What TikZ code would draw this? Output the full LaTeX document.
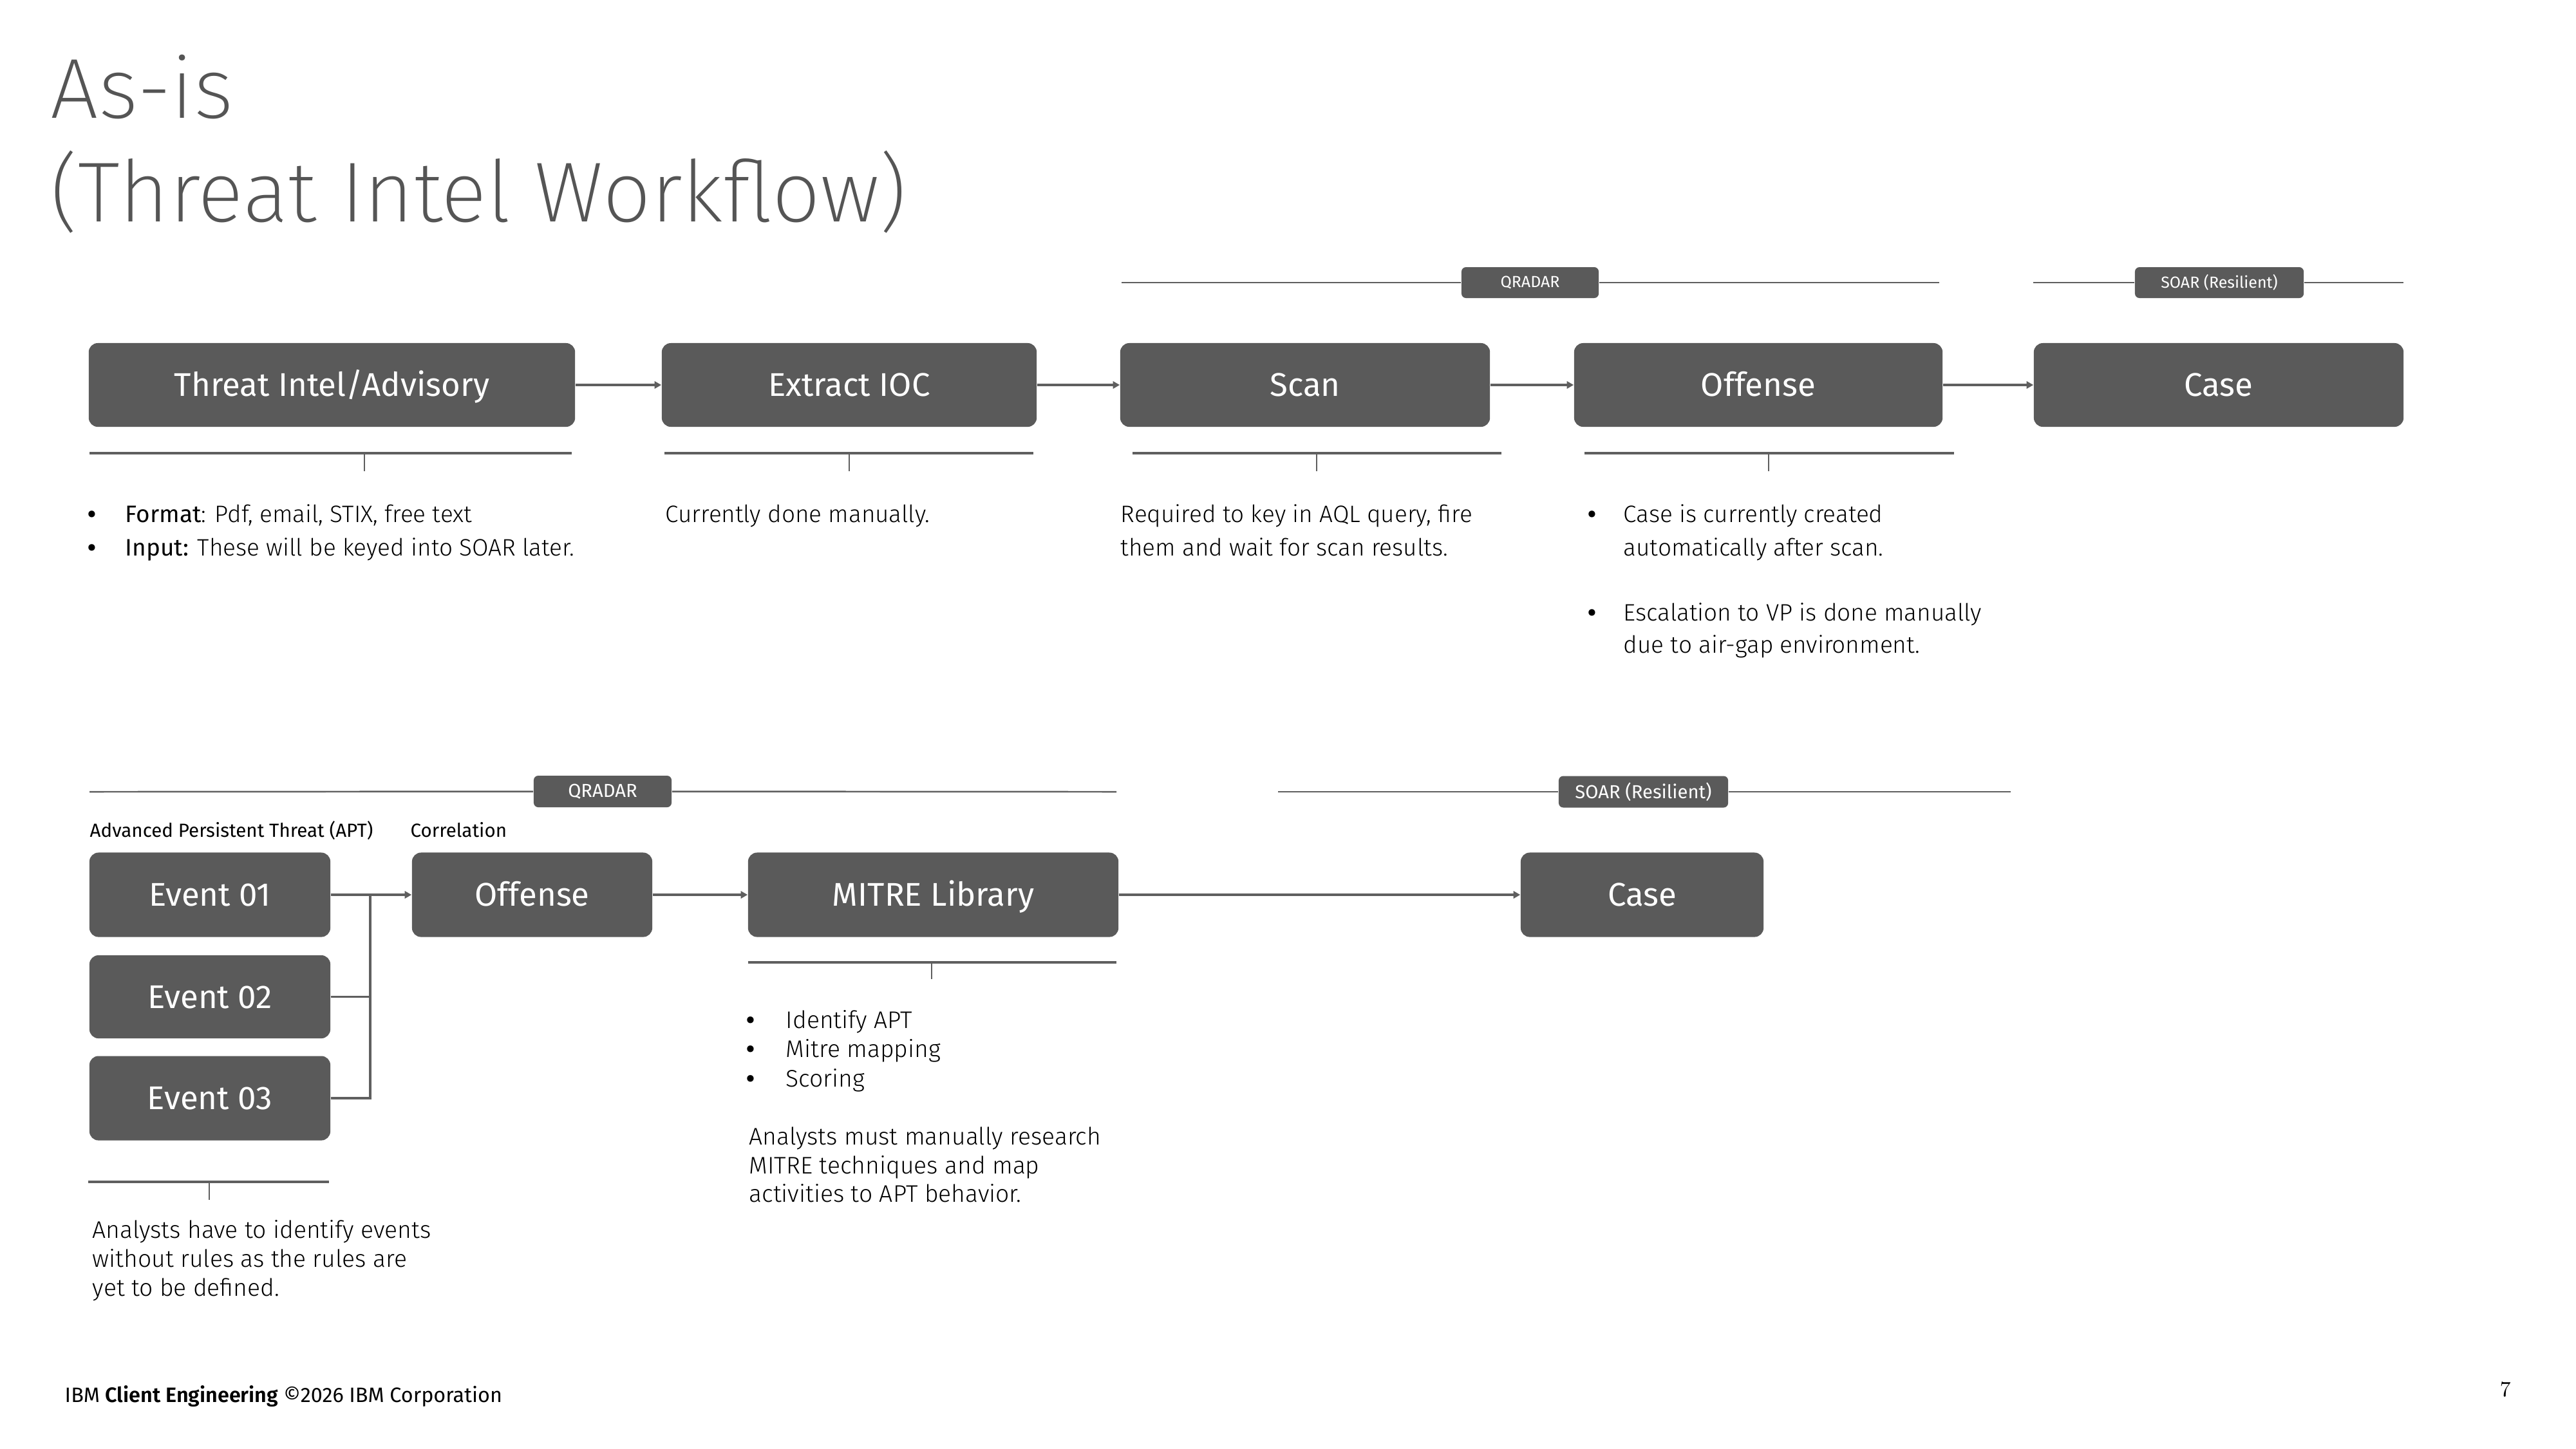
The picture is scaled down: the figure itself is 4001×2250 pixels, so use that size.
\documentclass[tikz,border=0pt]{standalone}
\usepackage{fontspec}
\setmainfont{Fira Sans}
\newfontfamily\lightf{Fira Sans Light}
\newfontfamily\xlightf{Fira Sans ExtraLight}
\newfontfamily\semif{Fira Sans SemiBold}
\newfontfamily\regf{Fira Sans}
\usetikzlibrary{arrows.meta}
\definecolor{boxgray}{HTML}{5A5A5A}
\definecolor{linegray}{HTML}{5F5F5F}
\definecolor{titlegray}{HTML}{555555}
\newcommand{\bul}{{\regf\bfseries •}}
\tikzset{
  box/.style={rectangle, rounded corners=4pt, fill=boxgray, text=white, inner sep=0pt,
    text height=10pt, text depth=0pt, font=\fontsize{14.5}{17}\selectfont},
  tag/.style={rectangle, rounded corners=2pt, fill=boxgray, text=white, inner sep=0pt},
  conn/.style={draw=linegray, line width=0.9pt, -{Triangle[length=3pt,width=3.2pt]}},
  plain/.style={draw=linegray, line width=0.9pt},
  grp/.style={draw=linegray, line width=0.7pt},
  tick/.style={draw=linegray, line width=0.45pt},
  body/.style={anchor=base west, inner sep=0pt, font=\lightf\fontsize{10.5}{13}\selectfont},
  bodyb/.style={anchor=base west, inner sep=0pt, font=\lightf\fontsize{10.6}{13}\selectfont},
  lbl/.style={anchor=base west, inner sep=0pt, font=\fontsize{8.4}{10}\selectfont},
}
\begin{document}
\begin{tikzpicture}[x=0.01cm,y=-0.01cm]
\useasboundingbox (0,0) rectangle (4001,2250);
\fill[white] (0,0) rectangle (4001,2250);

% title
\node[anchor=base west, inner sep=0pt, text=titlegray, font=\xlightf\fontsize{37.6}{45}\selectfont] (t1) at (78,183) {As-is};
\node[anchor=base west, inner sep=0pt, text=titlegray, font=\xlightf\fontsize{37.6}{45}\selectfont] (t2) at (78,344) {(Threat Intel Workflow)};

% ---------- top row ----------
\node[box, minimum width=7.55cm, minimum height=1.3cm] (tia) at (515.5,598) {Threat Intel/Advisory};
\node[box, minimum width=5.82cm, minimum height=1.3cm] (ioc) at (1319,598) {Extract IOC};
\node[box, minimum width=5.74cm, minimum height=1.3cm] (scan) at (2027,598) {Scan};
\node[box, minimum width=5.72cm, minimum height=1.3cm] (off) at (2731,598) {Offense};
\node[box, minimum width=5.74cm, minimum height=1.3cm] (case) at (3446,598) {Case};

\draw[conn] (tia) -- (ioc);
\draw[conn] (ioc) -- (scan);
\draw[conn] (scan) -- (off);
\draw[conn] (off) -- (case);

% group headers top
\node[tag, minimum width=2.13cm, minimum height=0.48cm, font=\fontsize{7.1}{8}\selectfont] (qtag) at (2376.5,439) {QRADAR};
\node[tag, minimum width=2.62cm, minimum height=0.48cm, font=\fontsize{7.1}{8}\selectfont] (stag) at (3447,439) {SOAR (Resilient)};
\coordinate (qL) at (1742,439); \coordinate (qR) at (3012,439);
\coordinate (sL) at (3158,439); \coordinate (sR) at (3733,439);
\draw[grp] (qL) -- (qtag.west); \draw[grp] (qtag.east) -- (qR);
\draw[grp] (sL) -- (stag.west); \draw[grp] (stag.east) -- (sR);

% brackets top
\coordinate (b1l) at (139,704); \coordinate (b1r) at (888,704); \coordinate (b1t) at (566,704); \coordinate (b1b) at (566,732);
\coordinate (b2l) at (1032,704); \coordinate (b2r) at (1605,704); \coordinate (b2t) at (1319,704); \coordinate (b2b) at (1319,732);
\coordinate (b3l) at (1759,704); \coordinate (b3r) at (2332,704); \coordinate (b3t) at (2045,704); \coordinate (b3b) at (2045,732);
\coordinate (b4l) at (2461,704); \coordinate (b4r) at (3035,704); \coordinate (b4t) at (2747,704); \coordinate (b4b) at (2747,732);
\foreach \i in {1,2,3,4}{
  \draw[plain] (b\i l) -- (b\i r);
  \draw[tick] (b\i t) -- (b\i b);
}

% texts top
\node[body] (f1b) at (136,811) {\bul};
\node[body] (f1) at (194,811) {{\regf Format}: Pdf, email, STIX, free text};
\node[body] (f2b) at (136,863) {\bul};
\node[body] (f2) at (194,863) {{\regf Input:} These will be keyed into SOAR later.};
\node[body] (e1) at (1033,811) {Currently done manually.};
\node[body] (s1) at (1740,811) {Required to key in AQL query, fire};
\node[body] (s2) at (1740,863) {them and wait for scan results.};
\node[body] (o1b) at (2466,811) {\bul};
\node[body] (o1) at (2521,811) {Case is currently created};
\node[body] (o2) at (2521,863) {automatically after scan.};
\node[body] (o3b) at (2466,964) {\bul};
\node[body] (o3) at (2521,964) {Escalation to VP is done manually};
\node[body] (o4) at (2521,1014) {due to air-gap environment.};

% ---------- bottom row ----------
\node[tag, minimum width=2.14cm, minimum height=0.49cm, font=\fontsize{8.3}{9}\selectfont] (qtag2) at (936,1229.5) {QRADAR};
\node[tag, minimum width=2.63cm, minimum height=0.49cm, font=\fontsize{8.3}{9}\selectfont] (stag2) at (2552.5,1230) {SOAR (Resilient)};
\coordinate (qL2) at (139,1230); \coordinate (qR2) at (1734,1230);
\coordinate (sL2) at (1985,1230); \coordinate (sR2) at (3123,1230);
\draw[grp] (qL2) -- (qtag2.west); \draw[grp] (qtag2.east) -- (qR2);
\draw[grp] (sL2) -- (stag2.west); \draw[grp] (stag2.east) -- (sR2);

\node[lbl] (apt) at (139,1300) {Advanced Persistent Threat (APT)};
\node[lbl] (corr) at (637,1300) {Correlation};

\node[box, minimum width=3.74cm, minimum height=1.31cm] (ev1) at (326,1390) {Event 01};
\node[box, minimum width=3.74cm, minimum height=1.29cm] (ev2) at (326,1548.5) {Event 02};
\node[box, minimum width=3.74cm, minimum height=1.31cm] (ev3) at (326,1706) {Event 03};
\node[box, minimum width=3.73cm, minimum height=1.31cm] (off2) at (826.5,1390) {Offense};
\node[box, minimum width=5.75cm, minimum height=1.31cm] (mitre) at (1449.5,1390) {MITRE Library};
\node[box, minimum width=3.77cm, minimum height=1.31cm] (case2) at (2550.5,1390) {Case};

\coordinate (jn) at (575,1390);
\draw[conn] (ev1) -- (off2);
\draw[plain] (ev2.east) -- (ev2.east -| jn);
\draw[plain] (ev3.east) -| (jn);
\draw[conn] (off2) -- (mitre);
\draw[conn] (mitre) -- (case2);

% brackets bottom
\coordinate (b5l) at (1162,1495); \coordinate (b5r) at (1734,1495); \coordinate (b5t) at (1447,1495); \coordinate (b5b) at (1447,1521);
\coordinate (b6l) at (137,1836); \coordinate (b6r) at (511,1836); \coordinate (b6t) at (325,1836); \coordinate (b6b) at (325,1864);
\foreach \i in {5,6}{
  \draw[plain] (b\i l) -- (b\i r);
  \draw[tick] (b\i t) -- (b\i b);
}

\node[bodyb] (m1b) at (1159,1597) {\bul};
\node[bodyb] (m1) at (1220,1597) {Identify APT};
\node[bodyb] (m2b) at (1159,1642) {\bul};
\node[bodyb] (m2) at (1220,1642) {Mitre mapping};
\node[bodyb] (m3b) at (1159,1688) {\bul};
\node[bodyb] (m3) at (1220,1688) {Scoring};
\node[bodyb] (m4) at (1163,1778) {Analysts must manually research};
\node[bodyb] (m5) at (1163,1823) {MITRE techniques and map};
\node[bodyb] (m6) at (1163,1867) {activities to APT behavior.};

\node[bodyb] (a1) at (143,1923) {Analysts have to identify events};
\node[bodyb] (a2) at (143,1968) {without rules as the rules are};
\node[bodyb] (a3) at (143,2013) {yet to be defined.};

% footer
\node[anchor=base west, inner sep=0pt, font=\fontsize{9.2}{11}\selectfont] (foot) at (100,2178) {IBM {\semif Client Engineering} ©2026 IBM Corporation};
\node[anchor=base west, inner sep=0pt, font=\fontsize{9.6}{11}\selectfont] (pg) at (3882,2169) {\fontspec{Latin Modern Roman}7};
\end{tikzpicture}
\end{document}
